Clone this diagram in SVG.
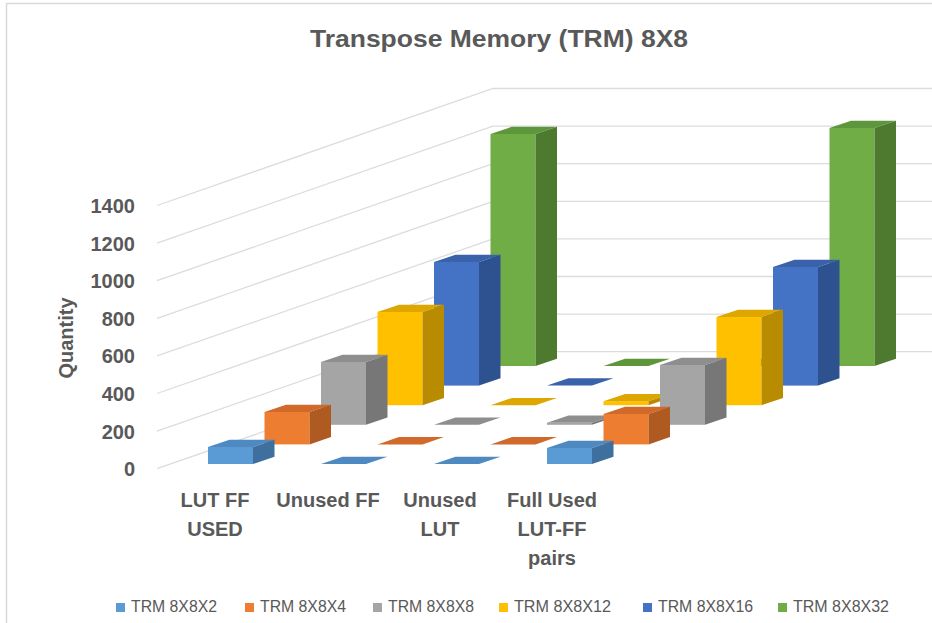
<svg xmlns="http://www.w3.org/2000/svg" width="932" height="623" viewBox="0 0 932 623">
  <style>
    .lbl { font-family: "Liberation Sans", Arial, sans-serif; fill: #595959; }
    .title { font-size: 24px; font-weight: bold; }
    .axis { font-size: 20px; font-weight: bold; }
    .cat { font-size: 20px; font-weight: bold; }
    .leg { font-size: 16px; }
    .grid { fill: none; stroke: #dcdcdc; stroke-width: 1.3; }
    .frame { fill: none; stroke: #d9d9d9; stroke-width: 1.5; }
    .s1f { fill: #5B9BD5; } .s1t { fill: #4E89C2; } .s1s { fill: #3E6F9E; }
    .s2f { fill: #ED7D31; } .s2t { fill: #D0692A; } .s2s { fill: #AE5A21; }
    .s3f { fill: #A5A5A5; } .s3t { fill: #8E8E8E; } .s3s { fill: #777777; }
    .s4f { fill: #FFC000; } .s4t { fill: #DDA600; } .s4s { fill: #B88B00; }
    .s5f { fill: #4472C4; } .s5t { fill: #3A62AB; } .s5s { fill: #2E5190; }
    .s6f { fill: #70AD47; } .s6t { fill: #5E963C; } .s6s { fill: #4E7A30; }
  </style>

  <rect width="932" height="623" fill="#ffffff"/>
  <!-- chart frame (top and left edges) -->
  <path class="frame" d="M6.5,623 V3.5 H932"/>

  <text class="lbl title" x="499" y="47" text-anchor="middle" textLength="378" lengthAdjust="spacingAndGlyphs">Transpose Memory (TRM) 8X8</text>

  <!-- gridlines: side wall then back wall -->
  <g id="gridlines">
    <path class="grid" d="M157,468.7 L493,351.7 H932"/>
    <path class="grid" d="M157,431.1 L493,314.1 H932"/>
    <path class="grid" d="M157,393.5 L493,276.5 H932"/>
    <path class="grid" d="M157,355.9 L493,238.9 H932"/>
    <path class="grid" d="M157,318.3 L493,201.3 H932"/>
    <path class="grid" d="M157,280.7 L493,163.7 H932"/>
    <path class="grid" d="M157,243.1 L493,126.1 H932"/>
    <path class="grid" d="M157,205.5 L493,88.5 H932"/>
  </g>

  <!-- value axis -->
  <g id="value-axis" class="lbl axis" text-anchor="end">
    <text x="135" y="476">0</text>
    <text x="135" y="438.6">200</text>
    <text x="135" y="401">400</text>
    <text x="135" y="363.4">600</text>
    <text x="135" y="325.8">800</text>
    <text x="135" y="288.2">1000</text>
    <text x="135" y="250.6">1200</text>
    <text x="135" y="213">1400</text>
  </g>
  <text class="lbl axis" transform="translate(73,338) rotate(-90)" text-anchor="middle">Quantity</text>

  <!-- columns, drawn from the back row to the front row -->
  <g id="series-trm-8x8x32">
    <rect class="s6f" x="490.5" y="134" width="45" height="232"/>
    <polygon class="s6t" points="490.5,134 535.5,134 557,126.7 512,126.7"/>
    <polygon class="s6s" points="535.5,134 557,126.7 557,358.7 535.5,366"/>
    <polygon class="s6t" points="603.5,366 648.5,366 670,358.7 625,358.7"/>
    <polygon class="s6t" points="716.5,366 761.5,366 783,358.7 738,358.7"/>
    <rect class="s6f" x="829.5" y="128" width="45" height="238"/>
    <polygon class="s6t" points="829.5,128 874.5,128 896,120.7 851,120.7"/>
    <polygon class="s6s" points="874.5,128 896,120.7 896,358.7 874.5,366"/>
  </g>

  <g id="series-trm-8x8x16">
    <rect class="s5f" x="434" y="262" width="45" height="123.6"/>
    <polygon class="s5t" points="434,262 479,262 500.5,254.7 455.5,254.7"/>
    <polygon class="s5s" points="479,262 500.5,254.7 500.5,378.3 479,385.6"/>
    <polygon class="s5t" points="547,385.6 592,385.6 613.5,378.3 568.5,378.3"/>
    <polygon class="s5t" points="660,385.6 705,385.6 726.5,378.3 681.5,378.3"/>
    <rect class="s5f" x="773" y="267" width="45" height="118.6"/>
    <polygon class="s5t" points="773,267 818,267 839.5,259.7 794.5,259.7"/>
    <polygon class="s5s" points="818,267 839.5,259.7 839.5,378.3 818,385.6"/>
  </g>

  <g id="series-trm-8x8x12">
    <rect class="s4f" x="377.5" y="312" width="45" height="93.2"/>
    <polygon class="s4t" points="377.5,312 422.5,312 444,304.7 399,304.7"/>
    <polygon class="s4s" points="422.5,312 444,304.7 444,397.9 422.5,405.2"/>
    <polygon class="s4t" points="490.5,405.2 535.5,405.2 557,397.9 512,397.9"/>
    <rect class="s4f" x="603.5" y="401.2" width="45" height="4"/>
    <polygon class="s4t" points="603.5,401.2 648.5,401.2 670,393.9 625,393.9"/>
    <polygon class="s4s" points="648.5,401.2 670,393.9 670,397.9 648.5,405.2"/>
    <rect class="s4f" x="716.5" y="317" width="45" height="88.2"/>
    <polygon class="s4t" points="716.5,317 761.5,317 783,309.7 738,309.7"/>
    <polygon class="s4s" points="761.5,317 783,309.7 783,397.9 761.5,405.2"/>
  </g>

  <g id="series-trm-8x8x8">
    <rect class="s3f" x="321" y="362" width="45" height="62.8"/>
    <polygon class="s3t" points="321,362 366,362 387.5,354.7 342.5,354.7"/>
    <polygon class="s3s" points="366,362 387.5,354.7 387.5,417.5 366,424.8"/>
    <polygon class="s3t" points="434,424.8 479,424.8 500.5,417.5 455.5,417.5"/>
    <rect class="s3f" x="547" y="422.8" width="45" height="2"/>
    <polygon class="s3t" points="547,422.8 592,422.8 613.5,415.5 568.5,415.5"/>
    <polygon class="s3s" points="592,422.8 613.5,415.5 613.5,417.5 592,424.8"/>
    <rect class="s3f" x="660" y="365" width="45" height="59.8"/>
    <polygon class="s3t" points="660,365 705,365 726.5,357.7 681.5,357.7"/>
    <polygon class="s3s" points="705,365 726.5,357.7 726.5,417.5 705,424.8"/>
  </g>

  <g id="series-trm-8x8x4">
    <rect class="s2f" x="264.5" y="412" width="45" height="32.4"/>
    <polygon class="s2t" points="264.5,412 309.5,412 331,404.7 286,404.7"/>
    <polygon class="s2s" points="309.5,412 331,404.7 331,437.1 309.5,444.4"/>
    <polygon class="s2t" points="377.5,444.4 422.5,444.4 444,437.1 399,437.1"/>
    <polygon class="s2t" points="490.5,444.4 535.5,444.4 557,437.1 512,437.1"/>
    <rect class="s2f" x="603.5" y="414" width="45" height="30.4"/>
    <polygon class="s2t" points="603.5,414 648.5,414 670,406.7 625,406.7"/>
    <polygon class="s2s" points="648.5,414 670,406.7 670,437.1 648.5,444.4"/>
  </g>

  <g id="series-trm-8x8x2">
    <rect class="s1f" x="208" y="447" width="45" height="17"/>
    <polygon class="s1t" points="208,447 253,447 274.5,439.7 229.5,439.7"/>
    <polygon class="s1s" points="253,447 274.5,439.7 274.5,456.7 253,464"/>
    <polygon class="s1t" points="321,464 366,464 387.5,456.7 342.5,456.7"/>
    <polygon class="s1t" points="434,464 479,464 500.5,456.7 455.5,456.7"/>
    <rect class="s1f" x="547" y="448" width="45" height="16"/>
    <polygon class="s1t" points="547,448 592,448 613.5,440.7 568.5,440.7"/>
    <polygon class="s1s" points="592,448 613.5,440.7 613.5,456.7 592,464"/>
  </g>

  <!-- category axis -->
  <g id="category-axis" class="lbl cat" text-anchor="middle">
    <text x="215" y="507">LUT FF</text>
    <text x="215" y="536">USED</text>
    <text x="328" y="507">Unused FF</text>
    <text x="440" y="507">Unused</text>
    <text x="440" y="536">LUT</text>
    <text x="552" y="507">Full Used</text>
    <text x="552" y="536">LUT-FF</text>
    <text x="552" y="565">pairs</text>
  </g>

  <!-- legend -->
  <g id="legend" class="lbl leg">
    <rect class="s1f" x="116" y="603" width="9" height="9"/>
    <text x="131" y="612" textLength="86" lengthAdjust="spacingAndGlyphs">TRM 8X8X2</text>
    <rect class="s2f" x="245" y="603" width="9" height="9"/>
    <text x="260" y="612" textLength="86" lengthAdjust="spacingAndGlyphs">TRM 8X8X4</text>
    <rect class="s3f" x="373" y="603" width="9" height="9"/>
    <text x="388" y="612" textLength="86" lengthAdjust="spacingAndGlyphs">TRM 8X8X8</text>
    <rect class="s4f" x="499" y="603" width="9" height="9"/>
    <text x="514" y="612" textLength="97" lengthAdjust="spacingAndGlyphs">TRM 8X8X12</text>
    <rect class="s5f" x="643" y="603" width="9" height="9"/>
    <text x="658" y="612" textLength="95" lengthAdjust="spacingAndGlyphs">TRM 8X8X16</text>
    <rect class="s6f" x="778" y="603" width="9" height="9"/>
    <text x="793" y="612" textLength="96" lengthAdjust="spacingAndGlyphs">TRM 8X8X32</text>
  </g>
</svg>
